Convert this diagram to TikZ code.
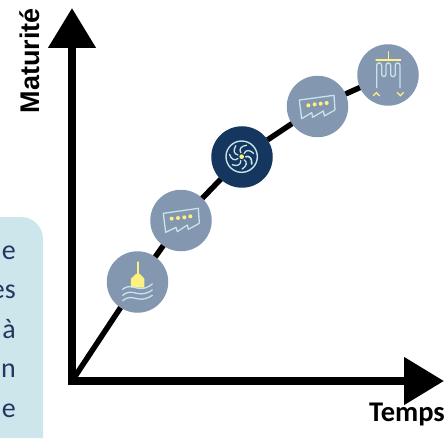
\documentclass[tikz,border=0pt]{standalone}
\usepackage{fontspec}
\setmainfont{Carlito}
\newfontfamily\axisfont{Liberation Sans}
\usetikzlibrary{arrows.meta}
\definecolor{disc}{HTML}{8497B0}
\definecolor{discdark}{HTML}{15375F}
\definecolor{pale}{HTML}{C9E3EA}
\definecolor{icony}{HTML}{FFF17F}
\definecolor{boxb}{HTML}{CDE6EB}
\definecolor{txtb}{HTML}{1F3864}
\tikzset{
  stage/.style={circle,fill=disc,draw=none,minimum size=61.5pt,inner sep=0pt,outer sep=0pt},
  stagedark/.style={stage,fill=discdark},
  curve/.style={line width=5.5pt,black},
  axisline/.style={line width=8pt,black,-{Triangle[length=40pt,width=46pt]}},
  ico/.style={draw=pale,line width=1.3pt,line join=round,line cap=round},
  icoy/.style={draw=icony,line width=1.3pt,line cap=round},
  dotty/.style={fill=icony,draw=none},
  sidetext/.style={anchor=base east,text=txtb,font=\fontsize{28}{28}\selectfont,inner sep=0pt},
  axlabel/.style={font=\fontsize{28.5}{28}\selectfont\bfseries,inner sep=0pt,text=black},
}
\begin{document}
\begin{tikzpicture}[x=1pt,y=-1pt]
\useasboundingbox (0,0) rectangle (446,438);
\clip (0,0) rectangle (446,438);
% side box
\fill[boxb] (-10,217) -- (21,217) arc[start angle=90,end angle=0,radius=22pt] -- (43,438) -- (-10,438) -- cycle;
\node[sidetext] (t1) at (16,259) {e};
\node[sidetext] (t2) at (16,298) {es};
\node[sidetext] (t3) at (16,338) {à};
\node[sidetext] (t4) at (16,377) {n};
\node[sidetext] (t5) at (16,417) {e};
% nodes
\coordinate (o) at (72,381);
\coordinate (ytip) at (72,8);
\coordinate (xtip) at (444,381);
\node[stage] (a) at (137.5,282) {};
\node[stage] (b) at (181,220.5) {};
\node[stagedark] (c) at (242,157) {};
\node[stage] (d) at (317.5,106.5) {};
\node[stage] (e) at (388,75) {};
% connectors
\draw[curve] (o) -- (a);
\draw[curve] (a) -- (b);
\draw[curve] (b) -- (c);
\draw[curve] (c) -- (d);
\draw[curve] (d) -- (e);
\draw[axisline] ([yshift=-4pt]o) -- (ytip);
\draw[axisline] ([xshift=-4pt]o) -- (xtip);
% labels
\node[inner sep=0pt,text=black,font=\axisfont\fontsize{27}{27}\selectfont\bfseries,rotate=90,anchor=base east] (mat) at (39,8) {Maturité};
\node[axlabel,anchor=base east] (tps) at (445,421) {Temps};
% icon 1
\begin{scope}[shift={(100,190)},x=0.3333pt,y=-0.3333pt]
\fill[icony] (108,252) -- (120,252) -- (133,266) -- (133,293) -- (93,293) -- (93,266) -- cycle;
\draw[icoy,line width=1.4pt] (114,216) -- (114,255);
\draw[ico] (68,298) .. controls (85,285) and (95,290) .. (110,294) .. controls (130,299) and (145,292) .. (157,282);
\draw[ico] (68,316) .. controls (85,303) and (95,306) .. (110,310) .. controls (130,315) and (145,308) .. (157,300);
\draw[ico] (68,332) .. controls (85,319) and (95,322) .. (110,326) .. controls (130,331) and (145,324) .. (157,316);
% icon 2
\draw[ico] (190,70) -- (295,55) -- (298,100) -- (265,118) -- (262,105) -- (232,125) -- (228,112) -- (197,127) -- cycle;
\foreach \p in {(215,86),(234,84),(253,82),(271,79)} \fill[dotty] \p circle[radius=6];
\end{scope}
% icon 3
\begin{scope}[shift={(205,120)},x=0.3333pt,y=-0.3333pt]
\draw[ico,line width=1.4pt] (110,110) circle[radius=47];
\foreach \r in {0,51.4,...,360}
  \draw[ico,shift={(110,110)},rotate=\r] (12,0) .. controls (24,-4) and (32,6) .. (30,22);
\fill[icony] (110,110) circle[radius=7];
\end{scope}
% icons 4 and 5
\begin{scope}[shift={(280,35)},x=0.3333pt,y=-0.3333pt]
\draw[ico] (58,195) -- (162,181) -- (165,225) -- (133,243) -- (130,228) -- (98,247) -- (95,233) -- (65,251) -- cycle;
\foreach \p in {(85,211),(104,208),(122,206),(140,204)} \fill[dotty] \p circle[radius=6];
\draw[icoy] (288,75) -- (362,75);
\draw[icoy] (325,50) -- (325,75);
\draw[ico] (290,158) -- (290,91) arc[start angle=180,end angle=360,radius=7.5] -- (305,118)
  arc[start angle=180,end angle=0,radius=6.5] -- (318,91) arc[start angle=180,end angle=360,radius=7] -- (332,118)
  arc[start angle=180,end angle=0,radius=7] -- (346,91) arc[start angle=180,end angle=360,radius=7] -- (360,158);
\draw[icoy] (280,182) -- (289,173) -- (298,182);
\draw[icoy] (352,173) -- (361,182) -- (370,173);
\end{scope}
\end{tikzpicture}
\end{document}
